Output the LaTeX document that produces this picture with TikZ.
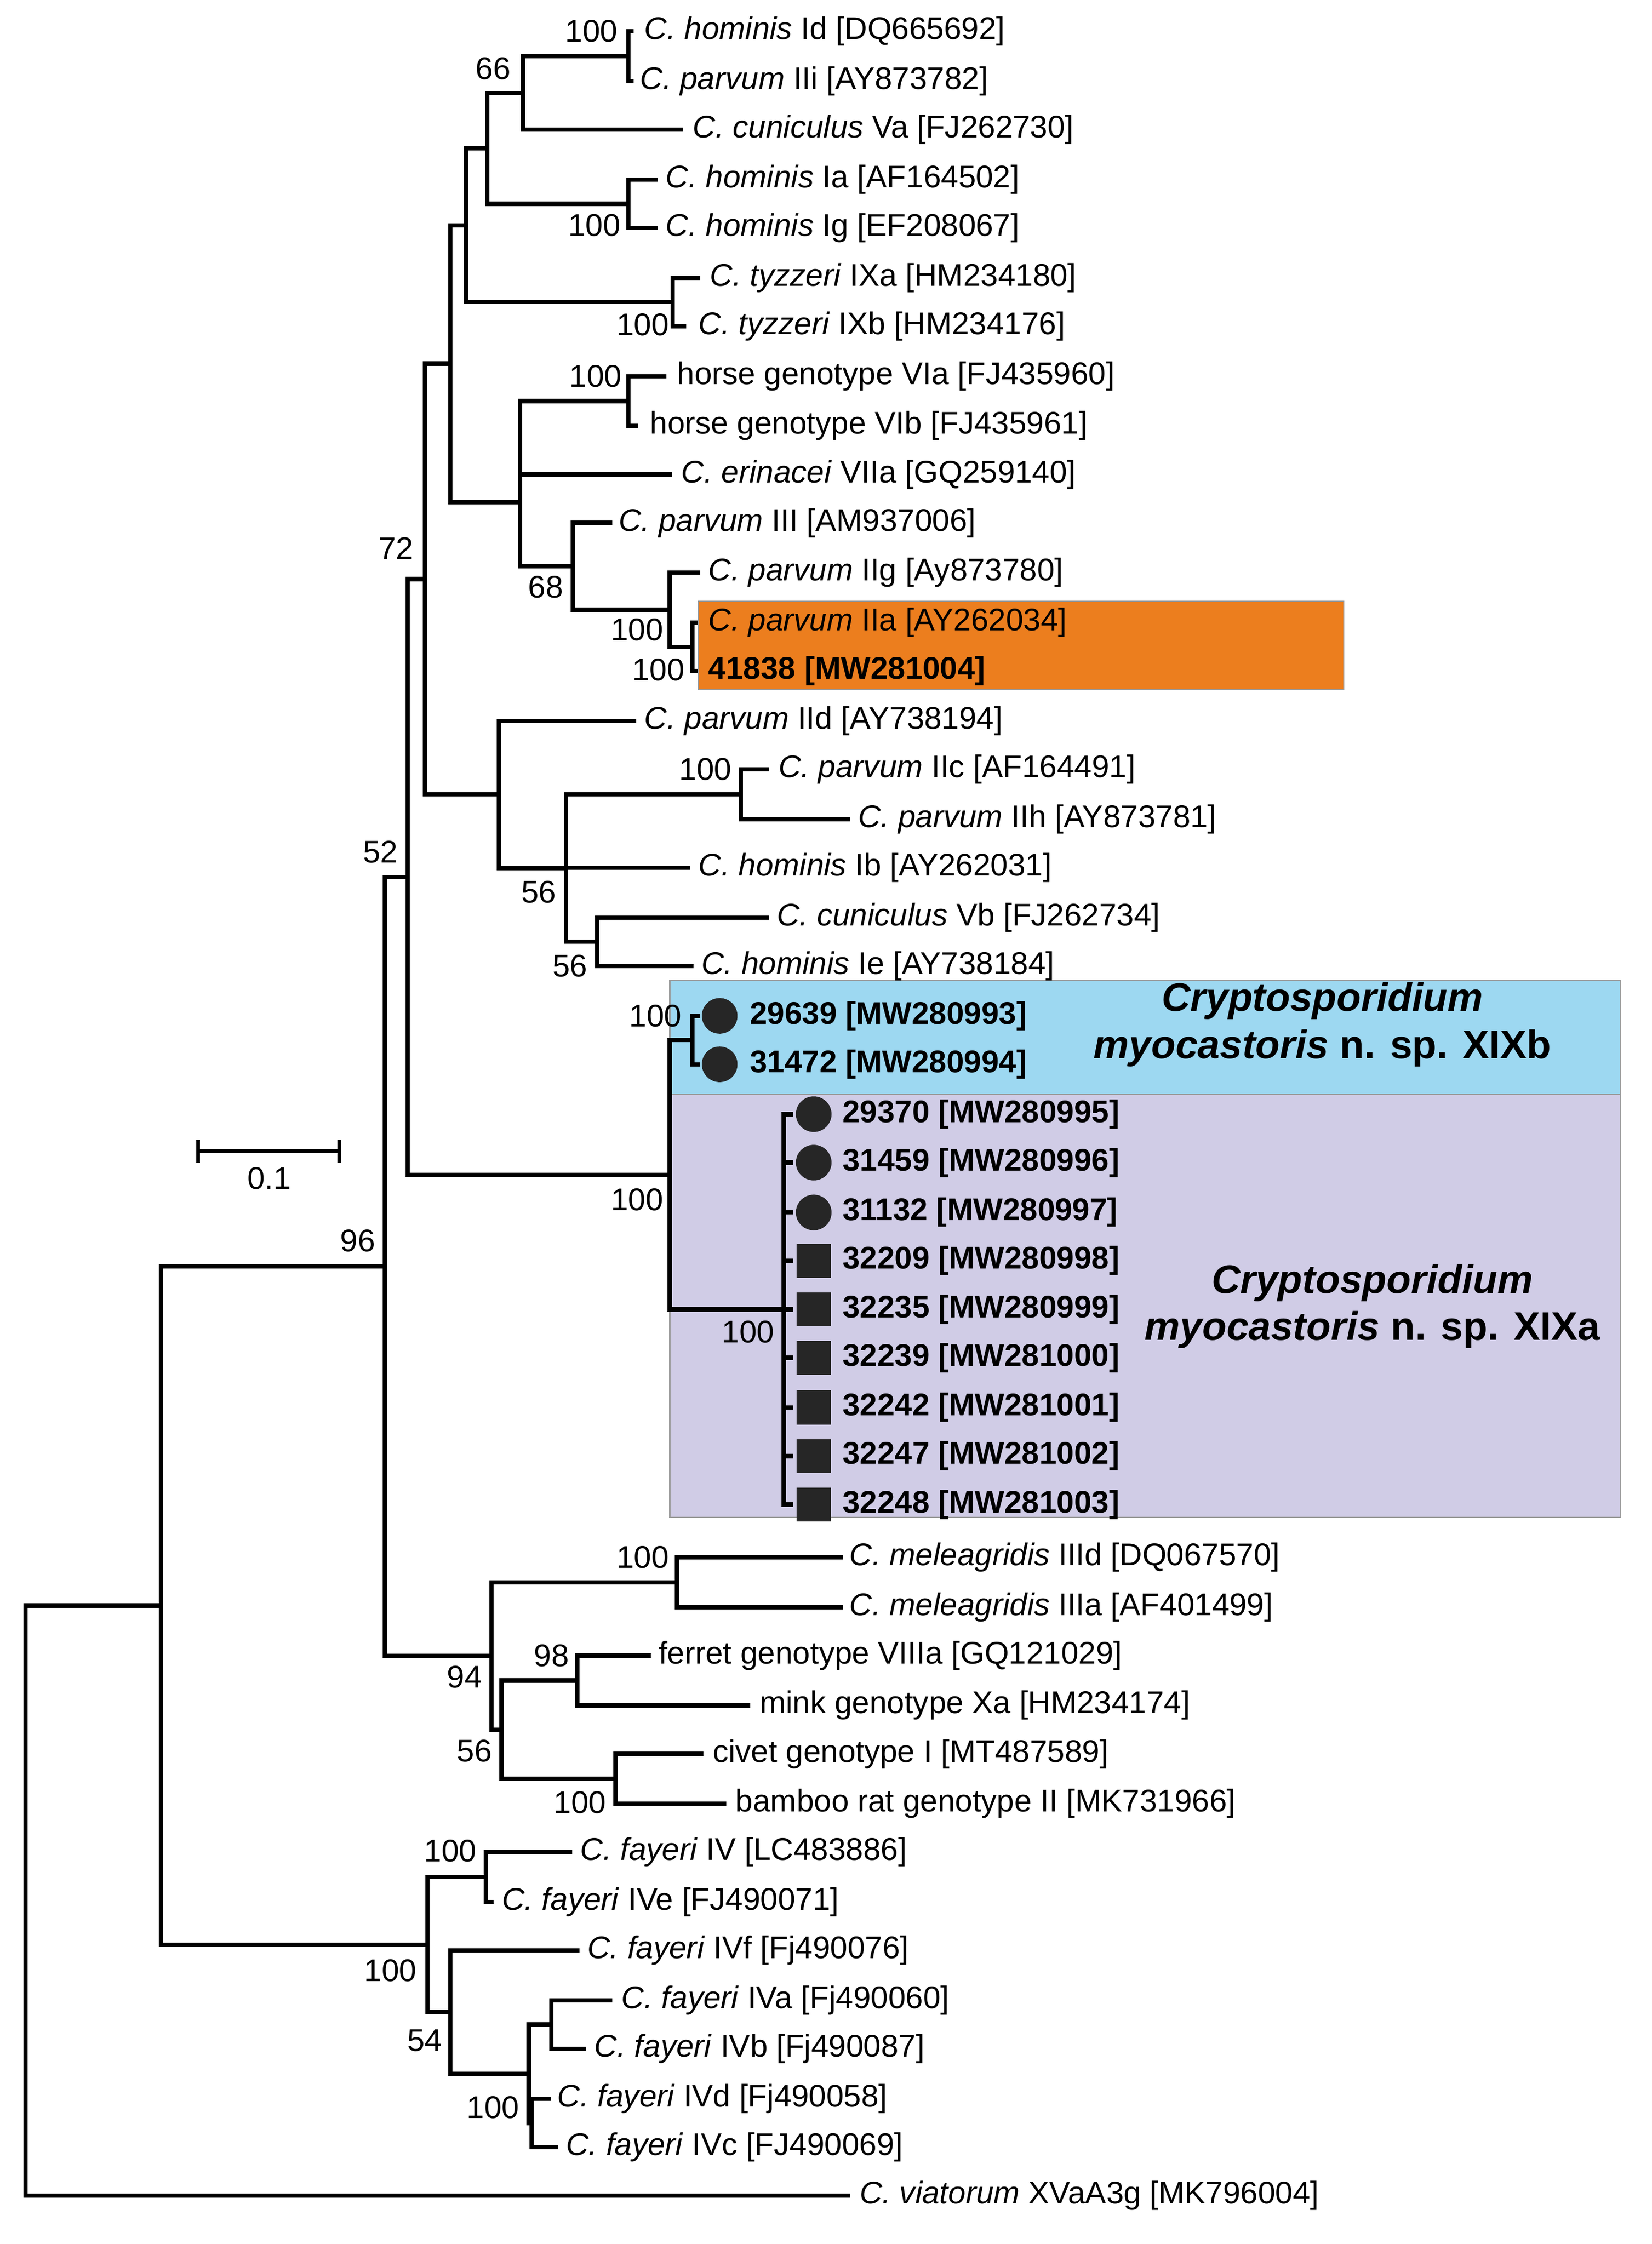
\documentclass[tikz,border=0pt]{standalone}
\usepackage{fontspec}
\setmainfont{Liberation Sans}
\usetikzlibrary{calc}
\newcommand\lf[5]{\coordinate (#1) at (#2,#4); \node[lab] (#1t) at (#3,#4) {#5};}
\newcommand\clade[4]{%
 \path ($(#3)!.5!(#4)$) coordinate (#1m);
 \coordinate (#1x) at (#2,0);
 \coordinate (#1) at (#1m -| #1x);
 \draw[br] (#1 |- #3) -- (#1 |- #4);
 \draw[br] (#1 |- #3) -- (#3);
 \draw[br] (#1 |- #4) -- (#4);}
\newcommand\bs[3]{\node[bsl] at (#1,#2) {#3};}
\definecolor{orng}{HTML}{EC7E1E}
\definecolor{lblue}{HTML}{9DD8F1}
\definecolor{lpur}{HTML}{D0CCE6}
\begin{document}
\begin{tikzpicture}[x=1pt,y=-1pt,
 br/.style={line width=3pt,line cap=rect},
 lab/.style={anchor=west,inner sep=0pt,font=\fontsize{22}{25}\selectfont},
 bsl/.style={inner sep=0pt,font=\fontsize{22}{25}\selectfont},
 big/.style={inner sep=0pt,font=\fontsize{28}{33}\selectfont\bfseries,align=center},
 dot/.style={circle,fill=black!85,minimum size=25pt,inner sep=0pt},
 sq/.style={rectangle,fill=black!85,minimum size=24pt,inner sep=0pt}]
\useasboundingbox (0,0) rectangle (1159,1575);
\fill[orng] (490,422) rectangle (943,484);
\fill[lblue] (470,688) rectangle (1137,768);
\fill[lpur,draw=black!40,line width=0.8pt] (470,768) rectangle (1137,1065);
\draw[black!40,line width=0.8pt] (490,422) rectangle (943,484);
\draw[black!40,line width=0.8pt] (470,688) rectangle (1137,768);
% leaves
\lf{l1}{443}{452}{22}{\textit{C. hominis} Id [DQ665692]}
\lf{l2}{443}{449}{57}{\textit{C. parvum} IIi [AY873782]}
\lf{l3}{478}{486}{91}{\textit{C. cuniculus} Va [FJ262730]}
\lf{l4}{460}{467}{126}{\textit{C. hominis} Ia [AF164502]}
\lf{l5}{460}{467}{160}{\textit{C. hominis} Ig [EF208067]}
\lf{l6}{490}{498}{195}{\textit{C. tyzzeri} IXa [HM234180]}
\lf{l7}{480}{490}{229}{\textit{C. tyzzeri} IXb [HM234176]}
\lf{l8}{466}{475}{264}{horse genotype VIa [FJ435960]}
\lf{l9}{446}{456}{299}{horse genotype VIb [FJ435961]}
\lf{l10}{470}{478}{333}{\textit{C. erinacei} VIIa [GQ259140]}
\lf{l11}{428}{434}{367}{\textit{C. parvum} III [AM937006]}
\lf{l12}{490}{497}{402}{\textit{C. parvum} IIg [Ay873780]}
\lf{l13}{488}{497}{437}{\textit{C. parvum} IIa [AY262034]}
\lf{l14}{488}{497}{471}{\textbf{41838 [MW281004]}}
\lf{l15}{445}{452}{506}{\textit{C. parvum} IId [AY738194]}
\lf{l16}{538}{546}{540}{\textit{C. parvum} IIc [AF164491]}
\lf{l17}{595}{602}{575}{\textit{C. parvum} IIh [AY873781]}
\lf{l18}{483}{490}{609}{\textit{C. hominis} Ib [AY262031]}
\lf{l19}{538}{545}{644}{\textit{C. cuniculus} Vb [FJ262734]}
\lf{l20}{485}{492}{678}{\textit{C. hominis} Ie [AY738184]}
\lf{l21}{490}{526}{713}{\textbf{29639 [MW280993]}}
\lf{l22}{490}{526}{747}{\textbf{31472 [MW280994]}}
\lf{l23}{555}{591}{782}{\textbf{29370 [MW280995]}}
\lf{l24}{555}{591}{816}{\textbf{31459 [MW280996]}}
\lf{l25}{555}{591}{851}{\textbf{31132 [MW280997]}}
\lf{l26}{555}{591}{885}{\textbf{32209 [MW280998]}}
\lf{l27}{555}{591}{919}{\textbf{32235 [MW280999]}}
\lf{l28}{555}{591}{953}{\textbf{32239 [MW281000]}}
\lf{l29}{555}{591}{988}{\textbf{32242 [MW281001]}}
\lf{l30}{555}{591}{1022}{\textbf{32247 [MW281002]}}
\lf{l31}{555}{591}{1056}{\textbf{32248 [MW281003]}}
\lf{l32}{590}{596}{1093}{\textit{C. meleagridis} IIId [DQ067570]}
\lf{l33}{590}{596}{1128}{\textit{C. meleagridis} IIIa [AF401499]}
\lf{l34}{455}{462}{1162}{ferret genotype VIIIa [GQ121029]}
\lf{l35}{525}{533}{1197}{mink genotype Xa [HM234174]}
\lf{l36}{492}{500}{1231}{civet genotype I [MT487589]}
\lf{l37}{508}{516}{1266}{bamboo rat genotype II [MK731966]}
\lf{l38}{400}{407}{1300}{\textit{C. fayeri} IV [LC483886]}
\lf{l39}{345}{352}{1335}{\textit{C. fayeri} IVe [FJ490071]}
\lf{l40}{405}{412}{1369}{\textit{C. fayeri} IVf [Fj490076]}
\lf{l41}{428}{436}{1404}{\textit{C. fayeri} IVa [Fj490060]}
\lf{l42}{410}{417}{1438}{\textit{C. fayeri} IVb [Fj490087]}
\lf{l43}{385}{391}{1473}{\textit{C. fayeri} IVd [Fj490058]}
\lf{l44}{390}{397}{1507}{\textit{C. fayeri} IVc [FJ490069]}
\lf{l45}{595}{603}{1541}{\textit{C. viatorum} XVaA3g [MK796004]}
% markers
\foreach \y/\n in {713/m21,747/m22,782/m23,816/m24,851/m25}{\node[dot] (\n) at (\ifdim\y pt<760pt 505\else 571\fi,\y) {};}
\foreach \y/\n in {885/m26,919/m27,953/m28,988/m29,1022/m30,1056/m31}{\node[sq] (\n) at (571,\y) {};}
% clades
\clade{A}{441}{l1}{l2}
\clade{B}{367}{A}{l3}
\clade{C}{441}{l4}{l5}
\clade{D}{342}{B}{C}
\clade{E}{472}{l6}{l7}
\clade{F}{327}{D}{E}
\clade{G}{441}{l8}{l9}
\clade{H}{365}{G}{l10}
\clade{I}{486}{l13}{l14}
\clade{J}{470}{l12}{I}
\clade{K}{402}{l11}{J}
\clade{L}{365}{H}{K}
\clade{M}{316}{F}{L}
\clade{N}{520}{l16}{l17}
\clade{O}{419}{l19}{l20}
\clade{P}{397}{N}{O}
\draw[br] (P |- l18) -- (l18);
\clade{Q}{350}{l15}{P}
\clade{R}{298}{M}{Q}
\clade{S}{486}{l21}{l22}
\clade{T}{550}{l23}{l31}
\foreach \i in {24,...,30}{\draw[br] (T |- l\i) -- (l\i);}
\clade{U}{470}{S}{T}
\clade{V}{286}{R}{U}
\clade{W}{475}{l32}{l33}
\clade{X}{405}{l34}{l35}
\clade{Y}{432}{l36}{l37}
\clade{Z}{352}{X}{Y}
\clade{AA}{345}{W}{Z}
\clade{AB}{270}{V}{AA}
\clade{AC}{341}{l38}{l39}
\clade{AD}{373}{l43}{l44}
\clade{AE}{387}{l41}{l42}
\clade{AF}{371}{AE}{AD}
\clade{AG}{316}{l40}{AF}
\clade{AH}{300}{AC}{AG}
\clade{AI}{113}{AB}{AH}
\clade{RT}{18}{AI}{l45}
% bootstrap
\bs{415}{22}{100}\bs{346}{48}{66}\bs{417}{158}{100}\bs{451}{228}{100}
\bs{418}{264}{100}\bs{383}{412}{68}\bs{447}{442}{100}\bs{462}{470}{100}
\bs{278}{385}{72}\bs{495}{540}{100}\bs{378}{626}{56}\bs{400}{678}{56}
\bs{267}{598}{52}\bs{460}{713}{100}\bs{447}{842}{100}\bs{525}{935}{100}
\bs{251}{871}{96}\bs{451}{1093}{100}\bs{387}{1162}{98}\bs{326}{1177}{94}
\bs{333}{1229}{56}\bs{407}{1265}{100}\bs{316}{1299}{100}\bs{274}{1383}{100}
\bs{298}{1432}{54}\bs{346}{1479}{100}
% scale bar
\coordinate (sb1) at (139,808); \coordinate (sb2) at (238,808);
\draw[line width=2.5pt] (sb1) -- (sb2);
\draw[line width=2.5pt] (sb1 |- 0,800) -- (sb1 |- 0,816);
\draw[line width=2.5pt] (sb2 |- 0,800) -- (sb2 |- 0,816);
\node[bsl] (sbl) at (189,827) {0.1};
% group labels
\node[big] (gb) at (928,719) {\textit{Cryptosporidium}\\\textit{myocastoris} n. sp. XIXb};
\node[big] (ga) at (963,917) {\textit{Cryptosporidium}\\\textit{myocastoris} n. sp. XIXa};
\end{tikzpicture}
\end{document}
